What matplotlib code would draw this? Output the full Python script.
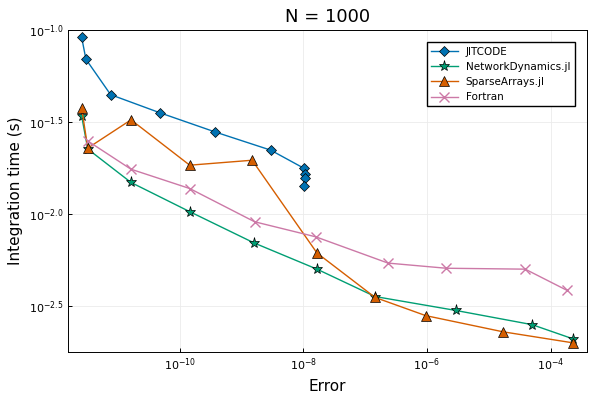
import numpy as np
import matplotlib
matplotlib.use("Agg")
import matplotlib.pyplot as plt
from matplotlib.ticker import FixedLocator, NullLocator

# values, as log10 exponents
jit_err = [-11.59, -11.52, -11.12, -10.32, -9.43, -8.53, -7.99, -7.98, -7.98, -7.99]
jit_t = [-1.038, -1.159, -1.352, -1.451, -1.555, -1.654, -1.753, -1.786, -1.808, -1.852]
nd_err = [-11.59, -11.49, -10.79, -9.84, -8.80, -7.78, -6.84, -5.53, -4.30, -3.64]
nd_t = [-1.467, -1.648, -1.830, -1.989, -2.159, -2.302, -2.451, -2.527, -2.604, -2.681]
sa_err = [-11.59, -11.49, -10.79, -9.84, -8.83, -7.78, -6.84, -6.02, -4.77, -3.64]
sa_t = [-1.423, -1.643, -1.489, -1.736, -1.709, -2.214, -2.456, -2.555, -2.643, -2.703]
fo_err = [-11.49, -10.79, -9.84, -8.79, -7.80, -6.63, -5.69, -4.41, -3.73]
fo_t = [-1.604, -1.758, -1.863, -2.044, -2.126, -2.269, -2.297, -2.302, -2.418]

series = [
    ("JITCODE", jit_err, jit_t, "#0072B2", "D", 5),
    ("NetworkDynamics.jl", nd_err, nd_t, "#009E73", "*", 8),
    ("SparseArrays.jl", sa_err, sa_t, "#D55E00", "^", 7.5),
    ("Fortran", fo_err, fo_t, "#CC79A7", "x", 6.5),
]

fig = plt.figure(figsize=(6, 4), dpi=100)
ax = fig.add_axes([68 / 600, 48 / 400, 519 / 600, 322 / 400])
for name, e, t, c, m, s in series:
    ax.plot(10 ** np.array(e), 10 ** np.array(t), color=c, marker=m, ms=s, lw=1,
            mec="black" if m != "x" else c, mew=0.5 if m != "x" else 1.0, label=name)

ax.set_xscale("log")
ax.set_yscale("log")
ax.set_xlim(10 ** -11.81, 10 ** -3.41)
ax.set_ylim(10 ** -2.753, 10 ** -1.0)
ax.xaxis.set_major_locator(FixedLocator([1e-10, 1e-8, 1e-6, 1e-4]))
ax.xaxis.set_major_formatter(plt.FuncFormatter(lambda v, p: f"$10^{{{int(round(np.log10(v)))}}}$"))
yt = [-2.5, -2.0, -1.5, -1.0]
ax.yaxis.set_major_locator(FixedLocator([10 ** v for v in yt]))
ax.yaxis.set_major_formatter(plt.FuncFormatter(lambda v, p: f"$10^{{{np.log10(v):.1f}}}$"))
ax.xaxis.set_minor_locator(NullLocator())
ax.yaxis.set_minor_locator(NullLocator())
ax.grid(True, color="#ebebeb", lw=0.6)
for sp in ax.spines.values():
    sp.set_linewidth(0.7)
ax.tick_params(labelsize=8, direction="in", length=3, width=0.7)
ax.set_xlabel("Error", fontsize=11)
ax.set_ylabel("Integration time (s)", fontsize=11)
ax.set_title("N = 1000", fontsize=13)
ax.legend(loc="upper right", fontsize=7.5, fancybox=False, edgecolor="black",
          framealpha=1, borderaxespad=1.2, handlelength=2.5)
fig.savefig("out.png")
